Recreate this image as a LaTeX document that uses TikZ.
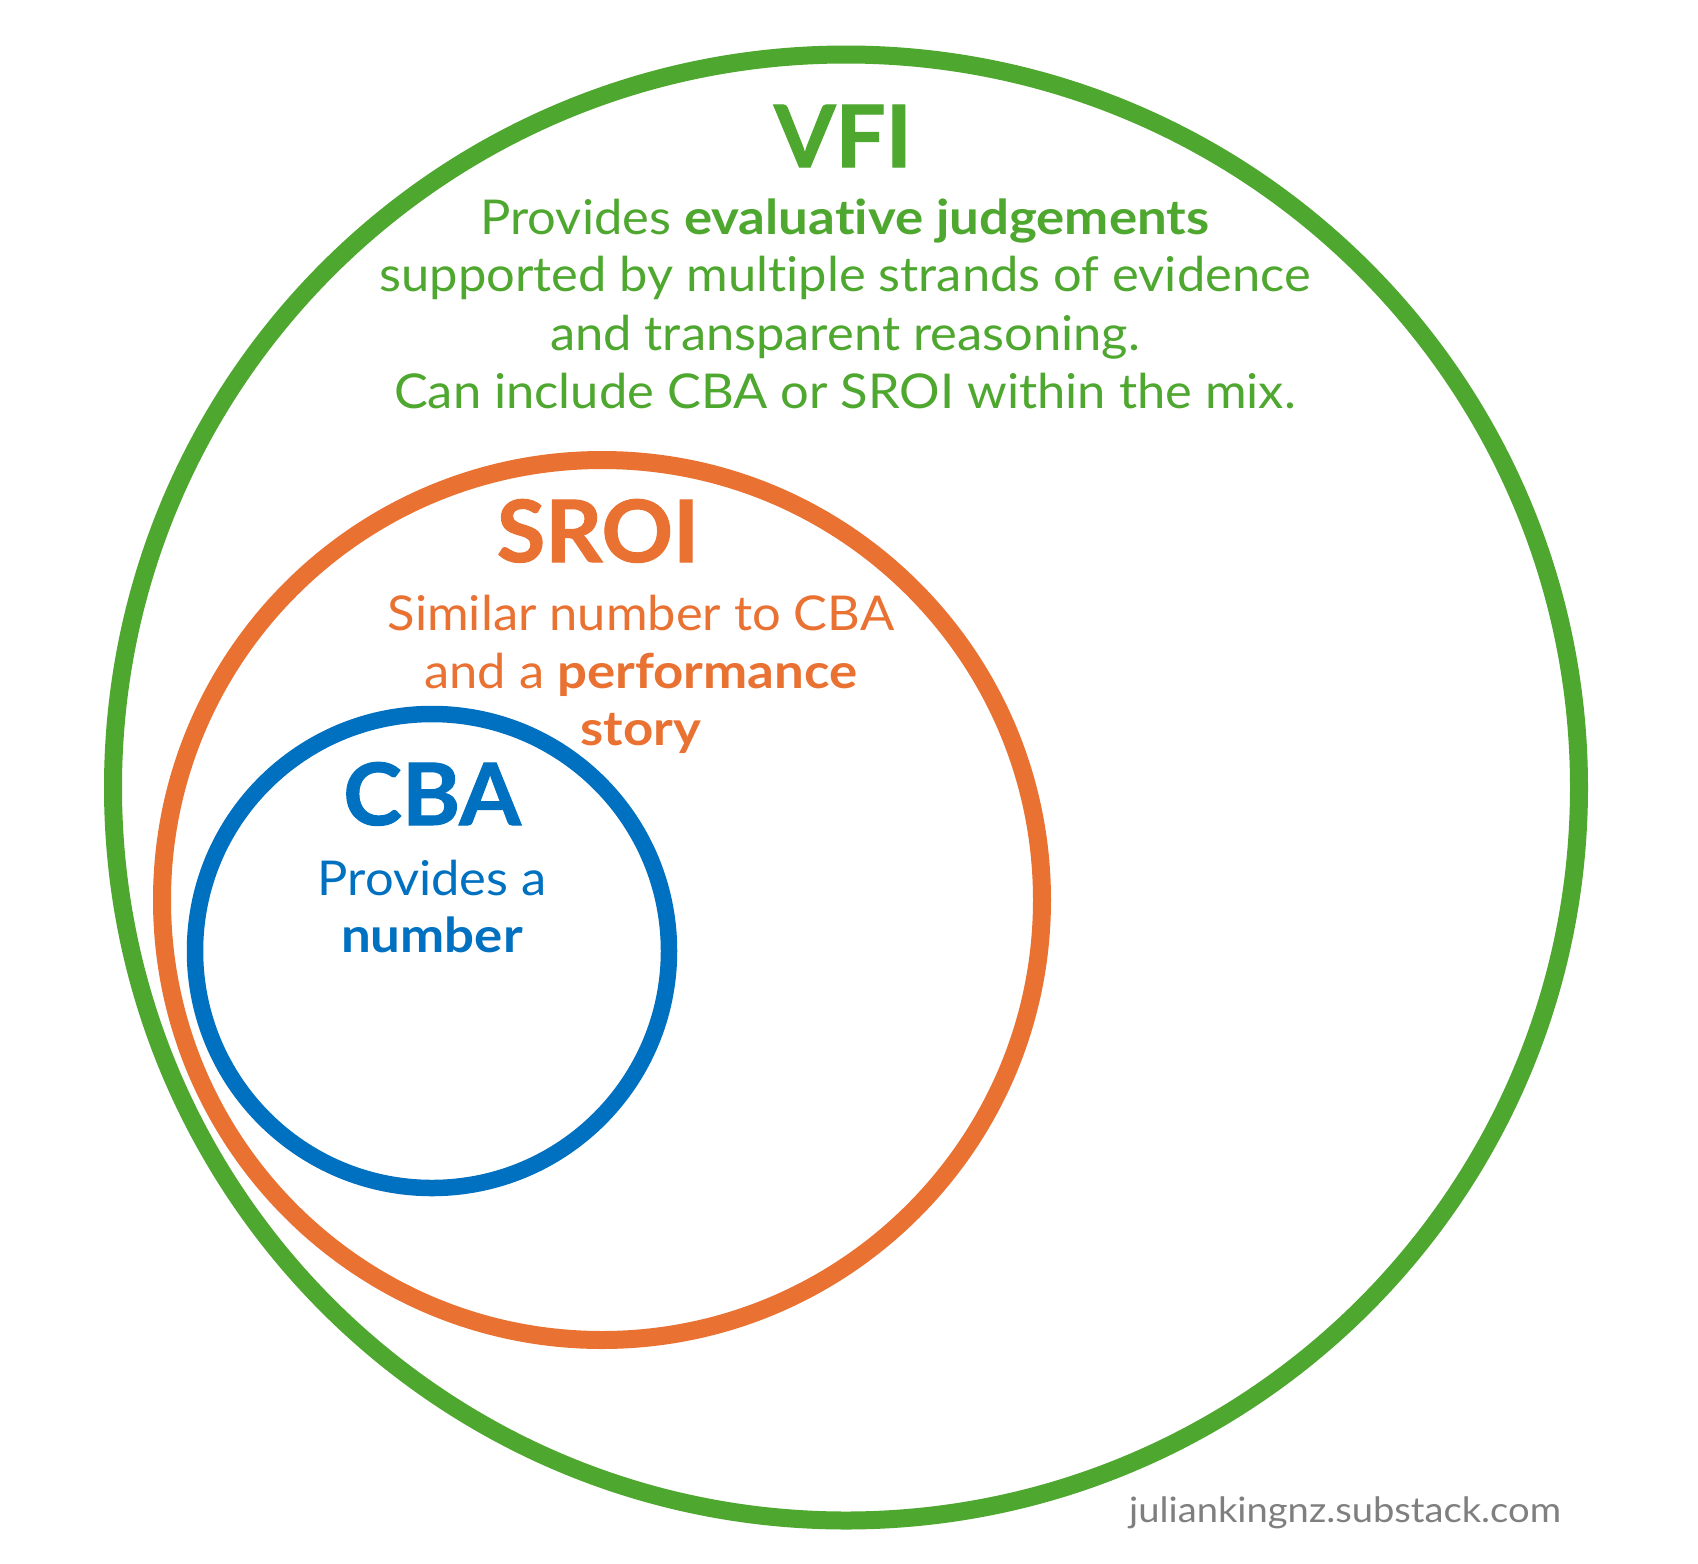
\documentclass[tikz,border=0pt]{standalone}
\usepackage{fontspec}
\setmainfont{Lato}[Ligatures=NoCommon,FakeStretch=1.055,BoldFeatures={FakeStretch=1.1}]
\newfontfamily\headfont{Lato}[Ligatures=NoCommon,FakeStretch=1.03,FakeBold=1.2]
\newfontfamily\markfont{Lato}[Ligatures=NoCommon,FakeStretch=1.09]
\definecolor{vfigreen}{HTML}{4EA72E}
\definecolor{sroiorange}{HTML}{E97132}
\definecolor{cbablue}{HTML}{0070C0}
\definecolor{markgray}{HTML}{7F7F7F}
\begin{document}
\begin{tikzpicture}[x=1pt,y=-1pt,
  ring/.style={circle,inner sep=0pt,outer sep=0pt,line width=18pt},
  heading/.style={anchor=base,inner sep=0pt,font=\headfont\fontsize{86}{86}\selectfont\bfseries},
  bodytext/.style={anchor=base,inner sep=0pt,font=\fontsize{48}{58}\selectfont}]
\useasboundingbox (0,0) rectangle (1698,1564);
\fill[white] (0,0) rectangle (1698,1564);
% circles
\node[ring,draw=vfigreen,minimum size=1466pt] (vfi) at (846,787.5) {};
\node[ring,draw=sroiorange,minimum size=880pt] (sroi) at (602,900) {};
\node[ring,draw=cbablue,line width=16.5pt,minimum size=474pt] (cba) at (432,951) {};
% VFI text
\node[heading,text=vfigreen] (vfititle) at (843,167) {VFI};
\node[bodytext,text=vfigreen] (vfia) at (845,234) {Provides \textbf{evaluative judgements}};
\node[bodytext,text=vfigreen] (vfib) at (845,291) {supported by multiple strands of evidence};
\node[bodytext,text=vfigreen] (vfic) at (845,350) {and transparent reasoning.};
\node[bodytext,text=vfigreen] (vfid) at (845,408) {Can include CBA or SROI within the mix.};
% SROI text
\node[heading,text=sroiorange] (sroititle) at (598,562) {SROI};
\node[bodytext,text=sroiorange] (sroia) at (641,630) {Similar number to CBA};
\node[bodytext,text=sroiorange] (sroib) at (641,688) {and a \textbf{performance}};
\node[bodytext,text=sroiorange] (sroic) at (641,745) {\textbf{story}};
% CBA text
\node[heading,text=cbablue] (cbatitle) at (432,825) {CBA};
\node[bodytext,text=cbablue] (cbaa) at (432,895) {Provides a};
\node[bodytext,text=cbablue] (cbab) at (432,952) {\textbf{number}};
% watermark
\node[anchor=base west,inner sep=0pt,text=markgray,font=\markfont\fontsize{35}{35}\selectfont] (wm) at (1129,1522) {juliankingnz.substack.com};
\end{tikzpicture}
\end{document}
